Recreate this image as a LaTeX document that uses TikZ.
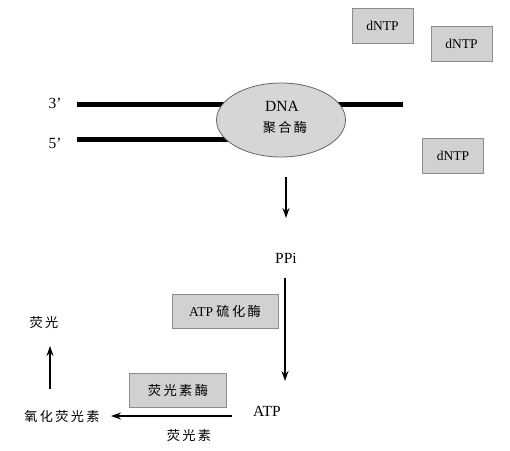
\documentclass[tikz,border=0pt]{standalone}
\usepackage{fontspec}
\setmainfont{Liberation Serif}
\newfontfamily\cjk{Noto Sans CJK SC}[Scale=0.85,LetterSpace=18]
\newfontfamily\cjkb{Noto Sans CJK SC}[Scale=0.98,LetterSpace=18]
\usetikzlibrary{arrows.meta,shapes.geometric}
\begin{document}
\begin{tikzpicture}[x=1pt,y=-1pt,
  graybox/.style={draw=black!45,fill=black!18,line width=0.8pt,inner sep=0pt,minimum width=61pt,minimum height=35pt,font=\fontsize{13.5}{15}\selectfont},
  lbl/.style={font=\fontsize{15.5}{17}\selectfont,inner sep=1pt},
  strand/.style={line width=5pt},
  arr/.style={line width=1.2pt,-{Stealth[length=10pt,width=7pt]}}]
\useasboundingbox (0,0) rectangle (510,450);
% strands
\coordinate (t1) at (77,104);
\coordinate (t2) at (403,104);
\coordinate (b1) at (77,139);
\coordinate (b2) at (230,139);
\draw[strand] (t1) -- (t2);
\draw[strand] (b1) -- (b2);
\node[ellipse,draw=black!60,fill=black!16,line width=0.8pt,minimum width=129pt,minimum height=74pt,inner sep=0pt] (poly) at (281,120) {};
\node[lbl] (dna) at (282,106) {DNA};
\node[lbl] (jh) at (285,128) {\cjk 聚合酶};
\node[lbl] (p3) at (55,103) {3'};
\node[lbl] (p5) at (55,143) {5'};
% dNTP
\node[graybox] (d1) at (382.5,25.5) {dNTP};
\node[graybox] (d2) at (461.5,44) {dNTP};
\node[graybox] (d3) at (453,155.5) {dNTP};
% PPi
\coordinate (a1s) at (286,177);
\node[lbl] (ppi) at (286,258) {PPi};
\draw[arr] (a1s) -- (286,218);
\node[lbl] (atp) at (267,411) {ATP};
\draw[arr] (ppi.south -| 285,0) ++(0,14) -- (285,381);
\node[graybox,minimum width=106pt,minimum height=34pt] (sulf) at (225,311) {ATP {\cjkb 硫化酶}};
\node[graybox,minimum width=97pt,minimum height=34pt] (luc) at (178,390) {\cjkb 荧光素酶};
\node[lbl] (oxy) at (62,416) {\cjk 氧化荧光素};
\node[lbl] (lucif) at (189,435) {\cjk 荧光素};
\node[lbl] (fl) at (44,322) {\cjk 荧光};
\draw[arr] (232,416) -- (111,416);
\draw[arr] (50,389) -- (50,346);
\end{tikzpicture}
\end{document}
